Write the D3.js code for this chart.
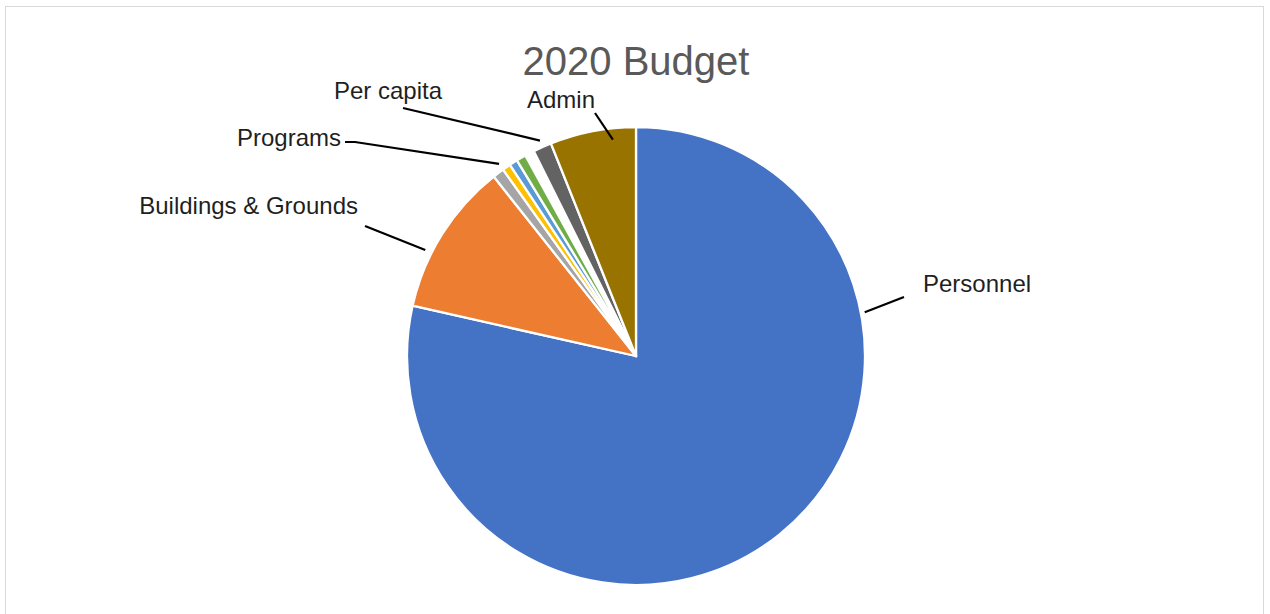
<!DOCTYPE html>
<html>
<head>
<meta charset="utf-8">
<script src="https://cdn.jsdelivr.net/npm/d3@7"></script>
<style>
  html, body { margin: 0; padding: 0; background: #fff; }
  svg { display: block; }
</style>
</head>
<body>
<script>
// budget shares in percent, clockwise from 12 o'clock
const categories = ["Personnel", "Buildings & Grounds", "Supplies", "Programs", "Technology",
                    "Library materials", "Hidden A", "Hidden B", "Per capita", "Admin"];
const shares = [78.53, 10.81, 0.81, 0.58, 0.58, 0.67, 0.33, 0.33, 1.31, 6.06];
const sliceColors = ["#4472C4", "#ED7D31", "#A5A5A5", "#FFC000", "#5B9BD5",
                     "#70AD47", "none", "none", "#636363", "#997300"];
const labelled = ["Personnel", "Buildings & Grounds", "Programs", "Per capita", "Admin"];

const width = 1270, height = 614;
const cx = 636, cy = 356, radius = 229;

// label placement relative to the pie centre (layout only)
const labelLayout = {
  "Personnel":           { tx: 287,  ty: -64,  anchor: "start",  from: [268, -59],  t: 0.28, rf: 1.017 },
  "Buildings & Grounds": { tx: -278, ty: -142, anchor: "end",    from: [-271, -130], t: 0.36, rf: 1.03 },
  "Programs":            { tx: -295, ty: -210, anchor: "end",    from: [-291, -214], knee: [-281, -214], t: 0.0, rf: 1.03 },
  "Per capita":          { tx: -194, ty: -257, anchor: "end",    from: [-233, -248], t: 0.53, rf: 1.03 },
  "Admin":               { tx: -75,  ty: -248, anchor: "middle", from: [-41, -243],  t: 0.72, rf: 0.95 }
};

const svg = d3.select("body").append("svg")
  .attr("width", width)
  .attr("height", height);

// chart area border
svg.append("rect")
  .attr("x", 5.5).attr("y", 6.5)
  .attr("width", 1258).attr("height", 640)
  .attr("fill", "#fff")
  .attr("stroke", "#d9d9d9")
  .attr("stroke-width", 1);

svg.append("text")
  .attr("x", 636).attr("y", 75)
  .attr("text-anchor", "middle")
  .style("font", "40px 'Liberation Sans', Arial, sans-serif")
  .attr("fill", "#595959")
  .text("2020 Budget");

const data = categories.map((c, i) => ({ name: c, value: shares[i], color: sliceColors[i] }));

const pie = d3.pie().sort(null).value(d => d.value);
const arcs = pie(data);
const arc = d3.arc().innerRadius(0).outerRadius(radius);

const g = svg.append("g").attr("transform", `translate(${cx},${cy})`);

g.selectAll("path")
  .data(arcs)
  .join("path")
    .attr("d", arc)
    .attr("fill", d => d.data.color)
    .attr("stroke", d => d.data.color === "none" ? "none" : "#fff")
    .attr("stroke-width", 2.3)
    .attr("stroke-linejoin", "round");

// point on the slice edge a leader line attaches to
const attachPoint = (d, t, rf) => {
  const a = d.startAngle + (d.endAngle - d.startAngle) * t;
  const r = radius * rf;
  return [Math.sin(a) * r, -Math.cos(a) * r];
};

const labelArcs = arcs.filter(d => labelled.includes(d.data.name));

g.selectAll("path.leader")
  .data(labelArcs)
  .join("path")
    .attr("class", "leader")
    .attr("fill", "none")
    .attr("stroke", "#000")
    .attr("stroke-width", 2.2)
    .attr("d", d => {
      const L = labelLayout[d.data.name];
      const pts = [L.from];
      if (L.knee) pts.push(L.knee);
      pts.push(attachPoint(d, L.t, L.rf));
      return d3.line()(pts);
    });

g.selectAll("text.label")
  .data(labelArcs)
  .join("text")
    .attr("class", "label")
    .attr("x", d => labelLayout[d.data.name].tx)
    .attr("y", d => labelLayout[d.data.name].ty)
    .attr("text-anchor", d => labelLayout[d.data.name].anchor)
    .style("font", "24px 'Liberation Sans', Arial, sans-serif")
    .attr("fill", "#1f1f1f")
    .text(d => d.data.name);
</script>
</body>
</html>
